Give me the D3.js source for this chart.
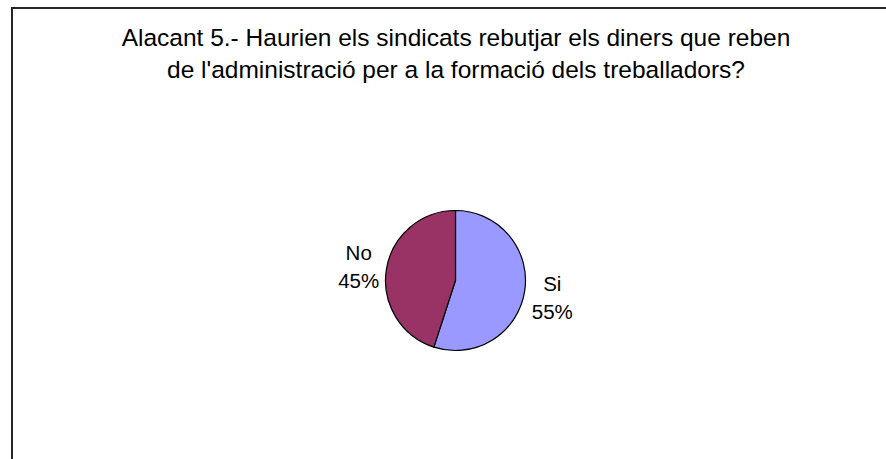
<!DOCTYPE html>
<html>
<head>
<meta charset="utf-8">
<script src="https://cdn.jsdelivr.net/npm/d3@7"></script>
<style>
  body { margin: 0; background: #fff; }
  text { font-family: "Liberation Sans", Arial, sans-serif; fill: #000; }
</style>
</head>
<body>
<svg width="886" height="459"></svg>
<script>
var categories = ["Si", "No"];
var values = [55, 45];
var colors = ["#9999ff", "#993366"];
var titleLines = [
    "Alacant 5.- Haurien els sindicats rebutjar els diners que reben",
    "de l'administració per a la formació dels treballadors?"
];

var svg = d3.select("svg"),
    cx = 455.5,
    cy = 280.5,
    radius = 70;

// chart frame (runs off the right and bottom edge)
svg.append("rect")
    .attr("x", 12)
    .attr("y", 8)
    .attr("width", 900)
    .attr("height", 480)
    .attr("fill", "#fff")
    .attr("stroke", "#262626")
    .attr("stroke-width", 2);

// title
svg.append("g").selectAll("text")
    .data(titleLines)
    .enter().append("text")
    .attr("x", 456)
    .attr("y", function(d, i) { return 46 + i * 32; })
    .attr("text-anchor", "middle")
    .style("font-size", "24.5px")
    .text(function(d) { return d; });

var data = categories.map(function(c, i) { return { name: c, value: values[i] }; });

var pie = d3.pie().sort(null).value(function(d) { return d.value; });
var arc = d3.arc().innerRadius(0).outerRadius(radius);
var labelArc = d3.arc().innerRadius(98).outerRadius(98);
var color = d3.scaleOrdinal().domain(categories).range(colors);

var g = svg.append("g")
    .attr("transform", "translate(" + cx + "," + cy + ")");

var total = d3.sum(values);

g.selectAll(".slice")
    .data(pie(data))
    .enter().append("path")
    .attr("class", "slice")
    .attr("d", arc)
    .attr("fill", function(d) { return color(d.data.name); })
    .attr("stroke", "#000")
    .attr("stroke-width", 1.2);

// labels: name + percent
var labels = g.selectAll(".label")
    .data(pie(data))
    .enter().append("text")
    .attr("class", "label")
    .attr("text-anchor", "middle")
    .style("font-size", "20.5px")
    .attr("transform", function(d) {
        var p = labelArc.centroid(d);
        return "translate(" + p[0] + "," + p[1] + ")";
    });

labels.append("tspan")
    .attr("x", 0)
    .attr("y", -5)
    .text(function(d) { return d.data.name; });

labels.append("tspan")
    .attr("x", 0)
    .attr("y", 23)
    .text(function(d) { return Math.round(d.data.value / total * 100) + "%"; });
</script>
</body>
</html>
